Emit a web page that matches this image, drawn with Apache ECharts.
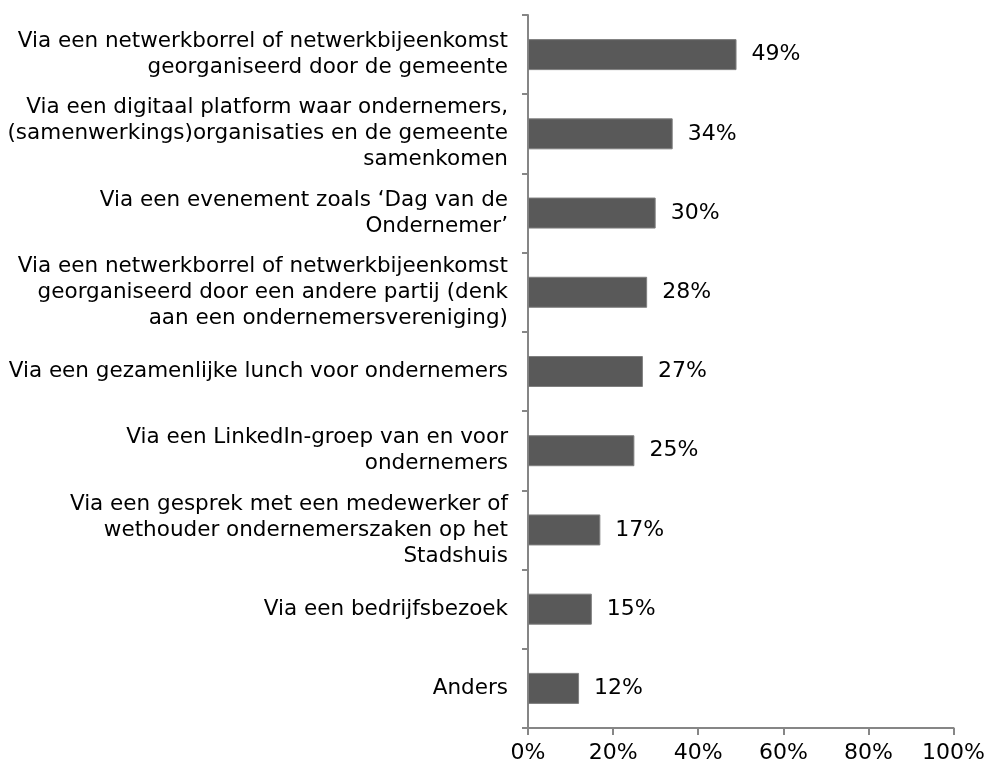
<!DOCTYPE html>
<html>
<head>
<meta charset="utf-8">
<script src="https://cdn.jsdelivr.net/npm/echarts@6/dist/echarts.min.js"></script>
<style>
  html, body { margin: 0; padding: 0; background: #fff; }
  #chart { width: 988px; height: 765px; }
</style>
</head>
<body>
<div id="chart"></div>
<script>
// categorieën (van boven naar beneden)
const categories = [
  'Via een netwerkborrel of netwerkbijeenkomst\ngeorganiseerd door de gemeente',
  'Via een digitaal platform waar ondernemers,\n(samenwerkings)organisaties en de gemeente\nsamenkomen',
  'Via een evenement zoals \u2018Dag van de\nOndernemer\u2019',
  'Via een netwerkborrel of netwerkbijeenkomst\ngeorganiseerd door een andere partij (denk\naan een ondernemersvereniging)',
  'Via een gezamenlijke lunch voor ondernemers',
  'Via een LinkedIn-groep van en voor\nondernemers',
  'Via een gesprek met een medewerker of\nwethouder ondernemerszaken op het\nStadshuis',
  'Via een bedrijfsbezoek',
  'Anders'
];
const values = [49, 34, 30, 28, 27, 25, 17, 15, 12];
const xTicks = [0, 20, 40, 60, 80, 100];

const chart = echarts.init(document.getElementById('chart'));
const font = 'DejaVu Sans, Verdana, sans-serif';

chart.setOption({
  animation: false,
  grid: { left: 528, right: 34, top: 15, bottom: 37, containLabel: false },
  xAxis: {
    type: 'value',
    min: xTicks[0],
    max: xTicks[xTicks.length - 1],
    interval: 20,
    splitLine: { show: false },
    axisLine: { show: true, lineStyle: { color: '#868686', width: 2 } },
    axisTick: { show: true, length: 7, lineStyle: { color: '#868686', width: 2 } },
    axisLabel: {
      formatter: '{value}%',
      fontFamily: font, fontSize: 22, color: '#000', margin: 14
    }
  },
  yAxis: {
    type: 'category',
    inverse: true,
    data: categories,
    axisLine: { show: true, lineStyle: { color: '#868686', width: 2 } },
    axisTick: { show: true, length: 6, alignWithLabel: false, lineStyle: { color: '#868686', width: 2 } },
    axisLabel: {
      fontFamily: font, fontSize: 21.5, color: '#000',
      align: 'right', margin: 20, lineHeight: 26
    }
  },
  series: [{
    type: 'bar',
    data: values,
    barWidth: 31,
    itemStyle: { color: '#595959', borderColor: '#7f7f7f', borderWidth: 1 },
    label: {
      show: true, position: 'right', distance: 15,
      formatter: '{c}%',
      fontFamily: font, fontSize: 22, color: '#000'
    }
  }]
});
</script>
</body>
</html>
